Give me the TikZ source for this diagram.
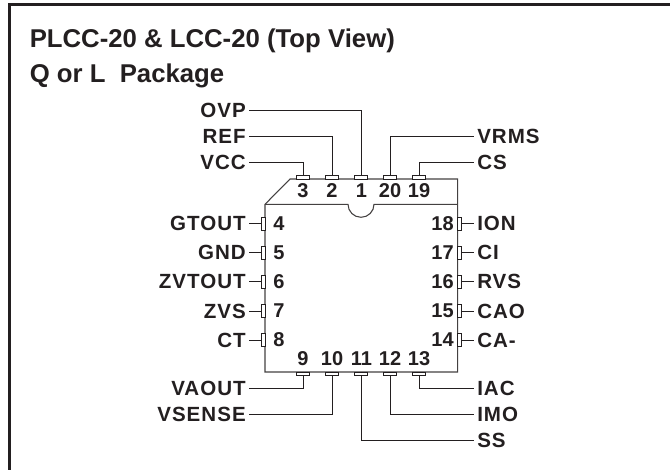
\documentclass[tikz,border=0pt]{standalone}
\usepackage{fontspec}
\setmainfont{Liberation Sans}
\definecolor{ink}{RGB}{35,31,32}
\tikzset{
 x=0.75pt,y=-0.75pt,
 frame/.style={draw=ink,line width=2pt},
 body/.style={draw=ink!85,line width=0.8pt,line join=miter},
 wire/.style={draw=ink,line width=0.7pt},
 pinh/.style={draw=ink,line width=0.55pt,fill=white,minimum width=9.75pt,minimum height=2.6pt,inner sep=0pt,outer sep=0pt},
 pinv/.style={draw=ink,line width=0.55pt,fill=white,minimum width=2.6pt,minimum height=9.75pt,inner sep=0pt,outer sep=0pt},
 sig/.style={font=\fontsize{15.4}{18}\selectfont\bfseries,text=ink,inner sep=0pt},
 num/.style={font=\fontsize{15}{18}\selectfont\bfseries,text=ink,inner sep=0pt},
 ttl/.style={font=\fontsize{19.3}{23}\selectfont\bfseries,text=ink,inner sep=0pt,anchor=base west}
}
\begin{document}
\begin{tikzpicture}
\useasboundingbox (0,0) rectangle (670,470);
\fill[white] (0,0) rectangle (670,470);
\draw[frame] (9.3,470) -- (9.3,4.7) -- (670,4.7);
\node[ttl] (t1) at (29.5,48) {PLCC-20 \& LCC-20 (Top View)};
\node[ttl] (t2) at (29.5,82.7) {Q or L\ \ Package};
% body
\draw[body] (290,179) -- (457.7,179) -- (457.7,372) -- (265,372) -- (265,204.3) -- cycle;
\draw[body] (265,204.3) -- (348,204.3) arc[start angle=180,end angle=0,radius=13] -- (457.7,204.3);
% pins
\foreach \n/\px in {p3/303.3,p2/332.3,p1/361.3,p20/390.2,p19/419.2}{
  \node[pinh,anchor=south] (\n) at (\px,179) {};
}
\foreach \n/\px in {p9/303.3,p10/332.3,p11/361.3,p12/390.2,p13/419.2}{
  \node[pinh,anchor=north] (\n) at (\px,372) {};
}
\foreach \n/\py in {p4/223.5,p5/252.5,p6/281.7,p7/311,p8/340}{
  \node[pinv,anchor=east] (\n) at (265,\py) {};
}
\foreach \n/\py in {p18/223.5,p17/252.5,p16/281.7,p15/311,p14/340}{
  \node[pinv,anchor=west] (\n) at (457.7,\py) {};
}
% numbers
\foreach \t/\px in {3/303,2/332,1/361.5,20/390,19/419}{\node[num] (n\t) at (\px,191) {\t};}
\foreach \t/\px in {9/303,10/332,11/361.5,12/390,13/419}{\node[num] (n\t) at (\px,359) {\t};}
\foreach \t/\py in {4/223.5,5/252.5,6/281.7,7/311,8/340}{\node[num,anchor=west] (n\t) at (273,\py) {\t};}
\foreach \t/\py in {18/223.5,17/252.5,16/281.7,15/311,14/340}{\node[num,anchor=east] (n\t) at (454,\py) {\t};}
% left labels
\foreach \n/\t/\py in {lOVP/OVP/110,lREF/REF/136,lVCC/VCC/162.3,lGTOUT/GTOUT/223.5,lGND/GND/252.5,lZVTOUT/ZVTOUT/281.7,lZVS/ZVS/311,lCT/CT/340,lVAOUT/VAOUT/388.3,lVSENSE/VSENSE/414.3}{
  \node[sig,anchor=east] (\n) at (246,\py) {\addfontfeature{LetterSpace=5}\t};
}
\foreach \n/\t/\py in {lVRMS/VRMS/136,lCS/CS/162.3,lION/ION/223.5,lCI/CI/252.5,lRVS/RVS/281.7,lCAO/CAO/311,lCAm/CA-/340,lIAC/IAC/388.3,lIMO/IMO/414.3,lSS/SS/440.7}{
  \node[sig,anchor=west] (\n) at (477,\py) {\addfontfeature{LetterSpace=5}\t};
}
% connectors
\draw[wire] (lOVP.east) ++(3,0) -| (p1.north);
\draw[wire] (lREF.east) ++(3,0) -| (p2.north);
\draw[wire] (lVCC.east) ++(3,0) -| (p3.north);
\draw[wire] (lVRMS.west) ++(-3.5,0) -| (p20.north);
\draw[wire] (lCS.west) ++(-3.5,0) -| (p19.north);
\draw[wire] (lVAOUT.east) ++(3,0) -| (p9.south);
\draw[wire] (lVSENSE.east) ++(3,0) -| (p10.south);
\draw[wire] (lIAC.west) ++(-3.5,0) -| (p13.south);
\draw[wire] (lIMO.west) ++(-3.5,0) -| (p12.south);
\draw[wire] (lSS.west) ++(-3.5,0) -| (p11.south);
\foreach \a/\b in {lGTOUT/p4,lGND/p5,lZVTOUT/p6,lZVS/p7,lCT/p8}{
  \draw[wire] (\a.east) ++(3,0) -- (\b.west);
}
\foreach \a/\b in {lION/p18,lCI/p17,lRVS/p16,lCAO/p15,lCAm/p14}{
  \draw[wire] (\a.west) ++(-3.5,0) -- (\b.east);
}
\end{tikzpicture}
\end{document}
